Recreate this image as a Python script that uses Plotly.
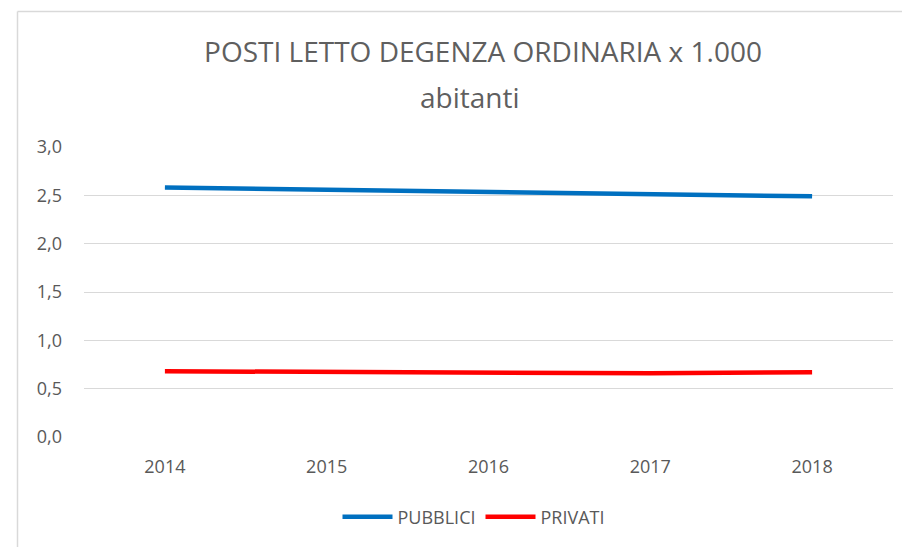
import plotly.graph_objects as go

years = ["2014", "2015", "2016", "2017", "2018"]
pubblici = [2.58, 2.56, 2.54, 2.51, 2.49]
privati = [0.68, 0.67, 0.67, 0.66, 0.67]
series_names = ["PUBBLICI", "PRIVATI"]
series_colors = ["#0070C0", "#FF0000"]
title_line1 = "POSTI LETTO DEGENZA ORDINARIA x 1.000"
title_line2 = "abitanti"

W, H = 902, 547
ML, MR, MT, MB = 84, 9, 147, 110
pw = W - ML - MR
ph = H - MT - MB

def px_x(p):
    return (p - ML) / pw

def px_y(p):
    return (H - MB - p) / ph

FONT = "Open Sans, sans-serif"
fig = go.Figure()
for name, vals, col in zip(series_names, [pubblici, privati], series_colors):
    fig.add_trace(go.Scatter(x=years, y=vals, name=name, mode="lines",
                             line=dict(color=col, width=4.5, shape="linear"),
                             hoverinfo="x+y"))

gray = "#595959"
fig.update_layout(
    width=W, height=H,
    margin=dict(l=ML, r=MR, t=MT, b=MB, pad=0, autoexpand=False),
    paper_bgcolor="white", plot_bgcolor="white",
    separators=",.",
    font=dict(family=FONT, color=gray, size=18),
    title=dict(text=title_line1, font=dict(family=FONT, size=28, color="#5f5f5f"),
               x=483 / W, xanchor="center", xref="container",
               y=1 - 52 / H, yanchor="middle", yref="container"),
    annotations=[dict(text=title_line2, xref="paper", yref="paper",
                      x=px_x(470), y=px_y(97), xanchor="center", yanchor="middle",
                      showarrow=False, font=dict(family=FONT, size=28, color="#5f5f5f"))],
    xaxis=dict(type="category", range=[-0.5, 4.5], showgrid=False, zeroline=False,
               showline=False, ticks="", tickfont=dict(size=18, color=gray),
               ticklabelstandoff=17),
    yaxis=dict(range=[0, 3], dtick=0.5, tickformat=".1f", showgrid=True,
               gridcolor="#D9D9D9", gridwidth=1, zeroline=False, showline=False,
               ticks="", tickfont=dict(size=18, color=gray), ticklabelstandoff=21),
    legend=dict(orientation="h", x=px_x(474), xanchor="center", y=px_y(517), yanchor="middle",
                font=dict(size=18, color=gray), itemwidth=50, tracegroupgap=0),
    shapes=[
        dict(type="line", xref="paper", yref="paper", x0=px_x(17.5), x1=px_x(910),
             y0=px_y(11.5), y1=px_y(11.5), line=dict(color="#D9D9D9", width=1.5)),
        dict(type="line", xref="paper", yref="paper", x0=px_x(17.5), x1=px_x(17.5),
             y0=px_y(11.5), y1=px_y(560), line=dict(color="#D9D9D9", width=1.5)),
    ],
)

fig.write_html("out.html", config={"displayModeBar": False},
               post_script="document.body.style.margin='0';document.body.style.overflow='hidden';")
